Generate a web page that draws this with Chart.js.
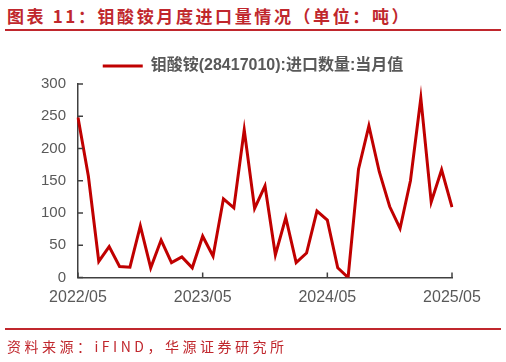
<!DOCTYPE html>
<html>
<head>
<meta charset="utf-8">
<script src="https://cdn.jsdelivr.net/npm/chart.js@4.4.1/dist/chart.umd.min.js"></script>
<style>
  html,body{margin:0;padding:0;background:#fff;}
  body{width:506px;height:362px;position:relative;overflow:hidden;}
  #title{position:absolute;left:7px;top:5px;font-family:"Noto Sans CJK SC",sans-serif;font-weight:bold;font-size:17px;letter-spacing:2.6px;color:#C0272D;white-space:nowrap;line-height:22px;}
  #topline{position:absolute;left:5px;top:29px;width:496px;height:2px;background:#C0272D;}
  #botline{position:absolute;left:5px;top:328px;width:496px;height:2px;background:#C0272D;}
  #source{position:absolute;left:7px;top:336px;font-family:"Noto Sans CJK SC",sans-serif;font-size:14px;letter-spacing:3.5px;color:#C0272D;white-space:nowrap;line-height:20px;}
  #wrap{position:absolute;left:0;top:0;width:506px;height:362px;}
</style>
</head>
<body>
<div id="title">图表 11：钼酸铵月度进口量情况（单位：吨）</div>
<div id="topline"></div>
<div id="wrap"><canvas id="c" width="506" height="362"></canvas></div>
<div id="botline"></div>
<div id="source">资料来源：iFIND，华源证券研究所</div>
<script>
const months = [
  "2022/05","2022/06","2022/07","2022/08","2022/09","2022/10","2022/11","2022/12",
  "2023/01","2023/02","2023/03","2023/04","2023/05","2023/06","2023/07","2023/08",
  "2023/09","2023/10","2023/11","2023/12","2024/01","2024/02","2024/03","2024/04",
  "2024/05","2024/06","2024/07","2024/08","2024/09","2024/10","2024/11","2024/12",
  "2025/01","2025/02","2025/03","2025/04","2025/05"
];
const importVolume = [
  248,157,25,48,17,16,80,15,58,23,32,15,
  64,33,122,108,229,107,142,35,93,23,38,103,
  89,15,0,168,235,164,110,76,150,278,117,167,109
];
const tickLabels = ["2022/05","2023/05","2024/05","2025/05"];
const yTicks = [0,50,100,150,200,250,300];
const seriesName = "钼酸铵(28417010):进口数量:当月值";

const innerTicks = {
  id:'innerTicks',
  afterDatasetsDraw(chart){
    const {ctx, scales:{x,y}} = chart;
    ctx.save();
    ctx.strokeStyle = '#404040';
    ctx.lineWidth = 1.5;
    yTicks.forEach(v=>{
      const py = y.getPixelForValue(v);
      ctx.beginPath(); ctx.moveTo(x.left, py); ctx.lineTo(x.left+5, py); ctx.stroke();
    });
    tickLabels.forEach(l=>{
      const px = x.getPixelForValue(months.indexOf(l));
      ctx.beginPath(); ctx.moveTo(px, y.bottom); ctx.lineTo(px, y.bottom-5); ctx.stroke();
    });
    ctx.restore();
  }
};

new Chart(document.getElementById('c'), {
  type:'line',
  data:{
    labels: months,
    datasets:[{
      label: seriesName,
      data: importVolume,
      borderColor:'#C00000',
      backgroundColor:'#C00000',
      borderWidth:3,
      pointRadius:0,
      tension:0,
      fill:false
    }]
  },
  options:{
    responsive:false,
    animation:false,
    layout:{padding:{left:0,right:0,top:48,bottom:0}},
    plugins:{
      legend:{
        display:true,
        position:'top',
        labels:{
          boxWidth:40,
          boxHeight:3,
          color:'#595959',
          font:{family:'"Liberation Sans","Noto Sans CJK SC",sans-serif',size:16,weight:'bold'},
          padding:10,
          generateLabels(chart){
            const items = Chart.defaults.plugins.legend.labels.generateLabels(chart);
            items.forEach(it=>{it.lineWidth=0;it.fillStyle='#C00000';});
            return items;
          }
        }
      },
      tooltip:{enabled:false}
    },
    scales:{
      x:{
        type:'category',
        offset:false,
        grid:{display:false,drawTicks:false},
        border:{display:true,color:'#404040',width:1.5},
        ticks:{
          autoSkip:false,maxRotation:0,minRotation:0,padding:10,
          color:'#595959',
          font:{family:'"Liberation Sans",sans-serif',size:16},
          callback:function(v,i){const l=months[i];return tickLabels.includes(l)?l:'';}
        },
        afterFit(scale){scale.height = 362-277.5;}
      },
      y:{
        min:0,max:300,
        grid:{display:false,drawTicks:false},
        border:{display:true,color:'#404040',width:1.5},
        ticks:{
          stepSize:50,padding:12,
          color:'#595959',
          font:{family:'"Liberation Sans",sans-serif',size:15}
        },
        afterFit(scale){scale.width = 78;}
      },
      yRight:{
        position:'right',
        display:true,
        min:0,max:300,
        grid:{display:false,drawTicks:false},
        border:{display:false},
        ticks:{display:false},
        afterFit(scale){scale.width = 54;}
      }
    }
  },
  plugins:[innerTicks]
});
</script>
</body>
</html>
